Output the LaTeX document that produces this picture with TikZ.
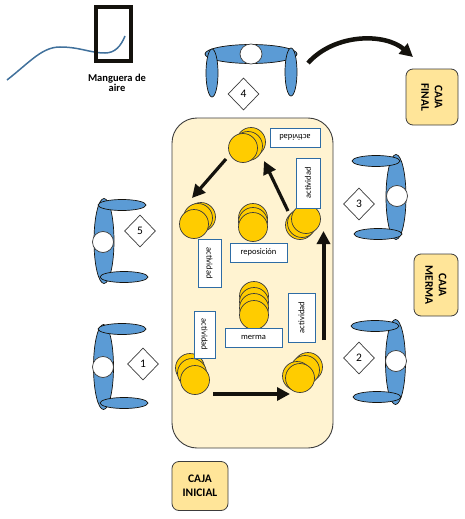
\documentclass[tikz,border=0pt]{standalone}
\usepackage{fontspec}
\setmainfont{Carlito}
\usetikzlibrary{arrows.meta,shapes.geometric}
\definecolor{ink}{RGB}{20,18,13}
\definecolor{edge}{RGB}{60,60,60}
\definecolor{mesa}{RGB}{255,243,209}
\definecolor{caja}{RGB}{255,229,153}
\definecolor{oro}{RGB}{255,204,0}
\definecolor{silla}{RGB}{91,155,213}
\definecolor{marco}{RGB}{46,108,164}
\definecolor{tubo}{RGB}{65,113,156}

\begin{document}
\begin{tikzpicture}[x=1pt,y=-1pt,
mesabox/.style={draw=edge,line width=.9pt,fill=mesa,rounded corners=25pt,minimum width=161pt,minimum height=330pt},
cajabox/.style={draw=edge,line width=.8pt,fill=caja,rounded corners=7pt,align=center,inner sep=0pt,font=\bfseries\fontsize{11.5}{13.5}\selectfont},
etq/.style={draw=marco,line width=.9pt,fill=white,inner sep=0pt,minimum height=19pt,minimum width=50pt,font=\fontsize{8.5}{9}\selectfont},
coin/.style={circle,draw=edge,line width=.7pt,fill=oro,inner sep=0pt,minimum size=#1},
coin/.default=29pt,
rombo/.style={diamond,draw=edge,line width=.7pt,fill=white,inner sep=0pt,minimum width=31pt,minimum height=32pt,font=\fontsize{11.5}{12}\selectfont},
pieza/.style={ellipse,draw=ink,line width=.7pt,fill=silla,inner sep=0pt},
cabeza/.style={ellipse,draw=edge,line width=.7pt,fill=white,inner sep=0pt,minimum width=21pt,minimum height=21pt},
flecha/.style={-{Triangle[length=13pt,width=13pt]},line width=#1,draw=ink},
flecha/.default=3.2pt]
\useasboundingbox (0,0) rectangle (465,519);
% manguera
\draw[tubo,line width=1.5pt] (7,80) .. controls (30,62) and (42,47) .. (60,47) .. controls (80,47) and (90,53) .. (105,53) .. controls (115,53) and (121,46) .. (125,36);
\node[draw=ink,line width=3.5pt,minimum width=35pt,minimum height=54pt,inner sep=0pt] (aire) at (113.5,34) {};
\node[align=center,inner sep=0pt,font=\bfseries\fontsize{10.5}{10.5}\selectfont] (lblaire) at (117,83) {Manguera de\\aire};
% mesa y cajas
\node[mesabox] (mesa) at (252.5,283) {};
\node[cajabox,minimum width=56pt,minimum height=52pt,rotate=-90] (final) at (432,97) {CAJA\\FINAL};
\node[cajabox,minimum width=62pt,minimum height=44pt,rotate=-90] (merma) at (436,285) {CAJA\\MERMA};
\node[cajabox,minimum width=56pt,minimum height=49pt] (inicial) at (200,486) {CAJA\\INICIAL};
% sillas laterales
\foreach \n/\bx/\by/\tx/\ty/\ux/\uy/\hx/\hy/\rx/\ry/\num in {
5/104/241/122/205/124/277/103/242/140/231/5,
1/103.5/367/122/329/124/403/103/367/143/364/1,
3/396/197/376/161/378/234/397/196/359/204/3,
2/395.5/362/375/326/377/397/396/361/359/358/2}{
\node[pieza,minimum width=20pt,minimum height=85pt] (back\n) at (\bx,\by) {};
\node[pieza,minimum width=48pt,minimum height=11pt] (brazoa\n) at (\tx,\ty) {};
\node[pieza,minimum width=48pt,minimum height=11pt] (brazob\n) at (\ux,\uy) {};
\node[cabeza] (cab\n) at (\hx,\hy) {};
\node[rombo] (num\n) at (\rx,\ry) {\num};
}
% silla de arriba
\node[pieza,minimum width=92pt,minimum height=19pt] (back4) at (251,54) {};
\node[pieza,minimum width=12pt,minimum height=48pt] (brazoa4) at (212,73) {};
\node[pieza,minimum width=12pt,minimum height=48pt] (brazob4) at (291,72) {};
\node[cabeza,minimum width=22pt,minimum height=20pt] (cab4) at (251,54) {};
\node[rombo] (num4) at (243.5,94) {4};
% pilas
\foreach \x/\y/\nom in {190/368/a,192/373/b,195/380/coin1,308/367/c,305/370/d,297/376/e,300/378/coin2,300/225/f,302/223/g,306/219/coin3,251/142/h,248/146/i,243/148/coin4,201/217/j,198/218/k,194/224/coin5,253/218/l,253/222/m,253/227/coin6,254/296/n,254/302/o,254/308/p,254/315/coin7}
\node[coin] (\nom) at (\x,\y) {};
% etiquetas
\node[etq,rotate=180] (et4) at (295,137.5) {actividad};
\node[etq,rotate=90,minimum height=24pt] (et3) at (308,183) {actividad};
\node[etq,rotate=-90,minimum height=23pt,minimum width=48pt] (et5) at (209.5,263) {actividad};
\node[etq,minimum width=57pt] (etrep) at (258.5,252.5) {reposición};
\node[etq,minimum width=57pt] (etmer) at (253.5,337.5) {merma};
\node[etq,rotate=-90,minimum height=21pt,minimum width=47pt] (et1) at (204.5,334.5) {actividad};
\node[etq,rotate=90,minimum height=27pt,minimum width=49pt] (et2) at (301.5,317.5) {actividad};
% recorrido
\draw[flecha=4pt] ([shift={(18,14)}]coin1.center)--([shift={(-10,16)}]coin2.center);
\draw[flecha=4pt] ([shift={(23.5,-38)}]coin2.center)--([shift={(17.5,12)}]coin3.center);
\draw[flecha] ([shift={(-18,-8)}]coin3.center)--([shift={(21,13)}]coin4.center);
\draw[flecha] ([shift={(-17,11)}]coin4.center)--([shift={(-2,-26)}]coin5.center);
\draw[flecha=4.5pt] ([shift={(17,-9)}]brazob4.center) .. controls (335,33) and (385,33) .. ([shift={(-19,-40)}]final.center);
\end{tikzpicture}
\end{document}
